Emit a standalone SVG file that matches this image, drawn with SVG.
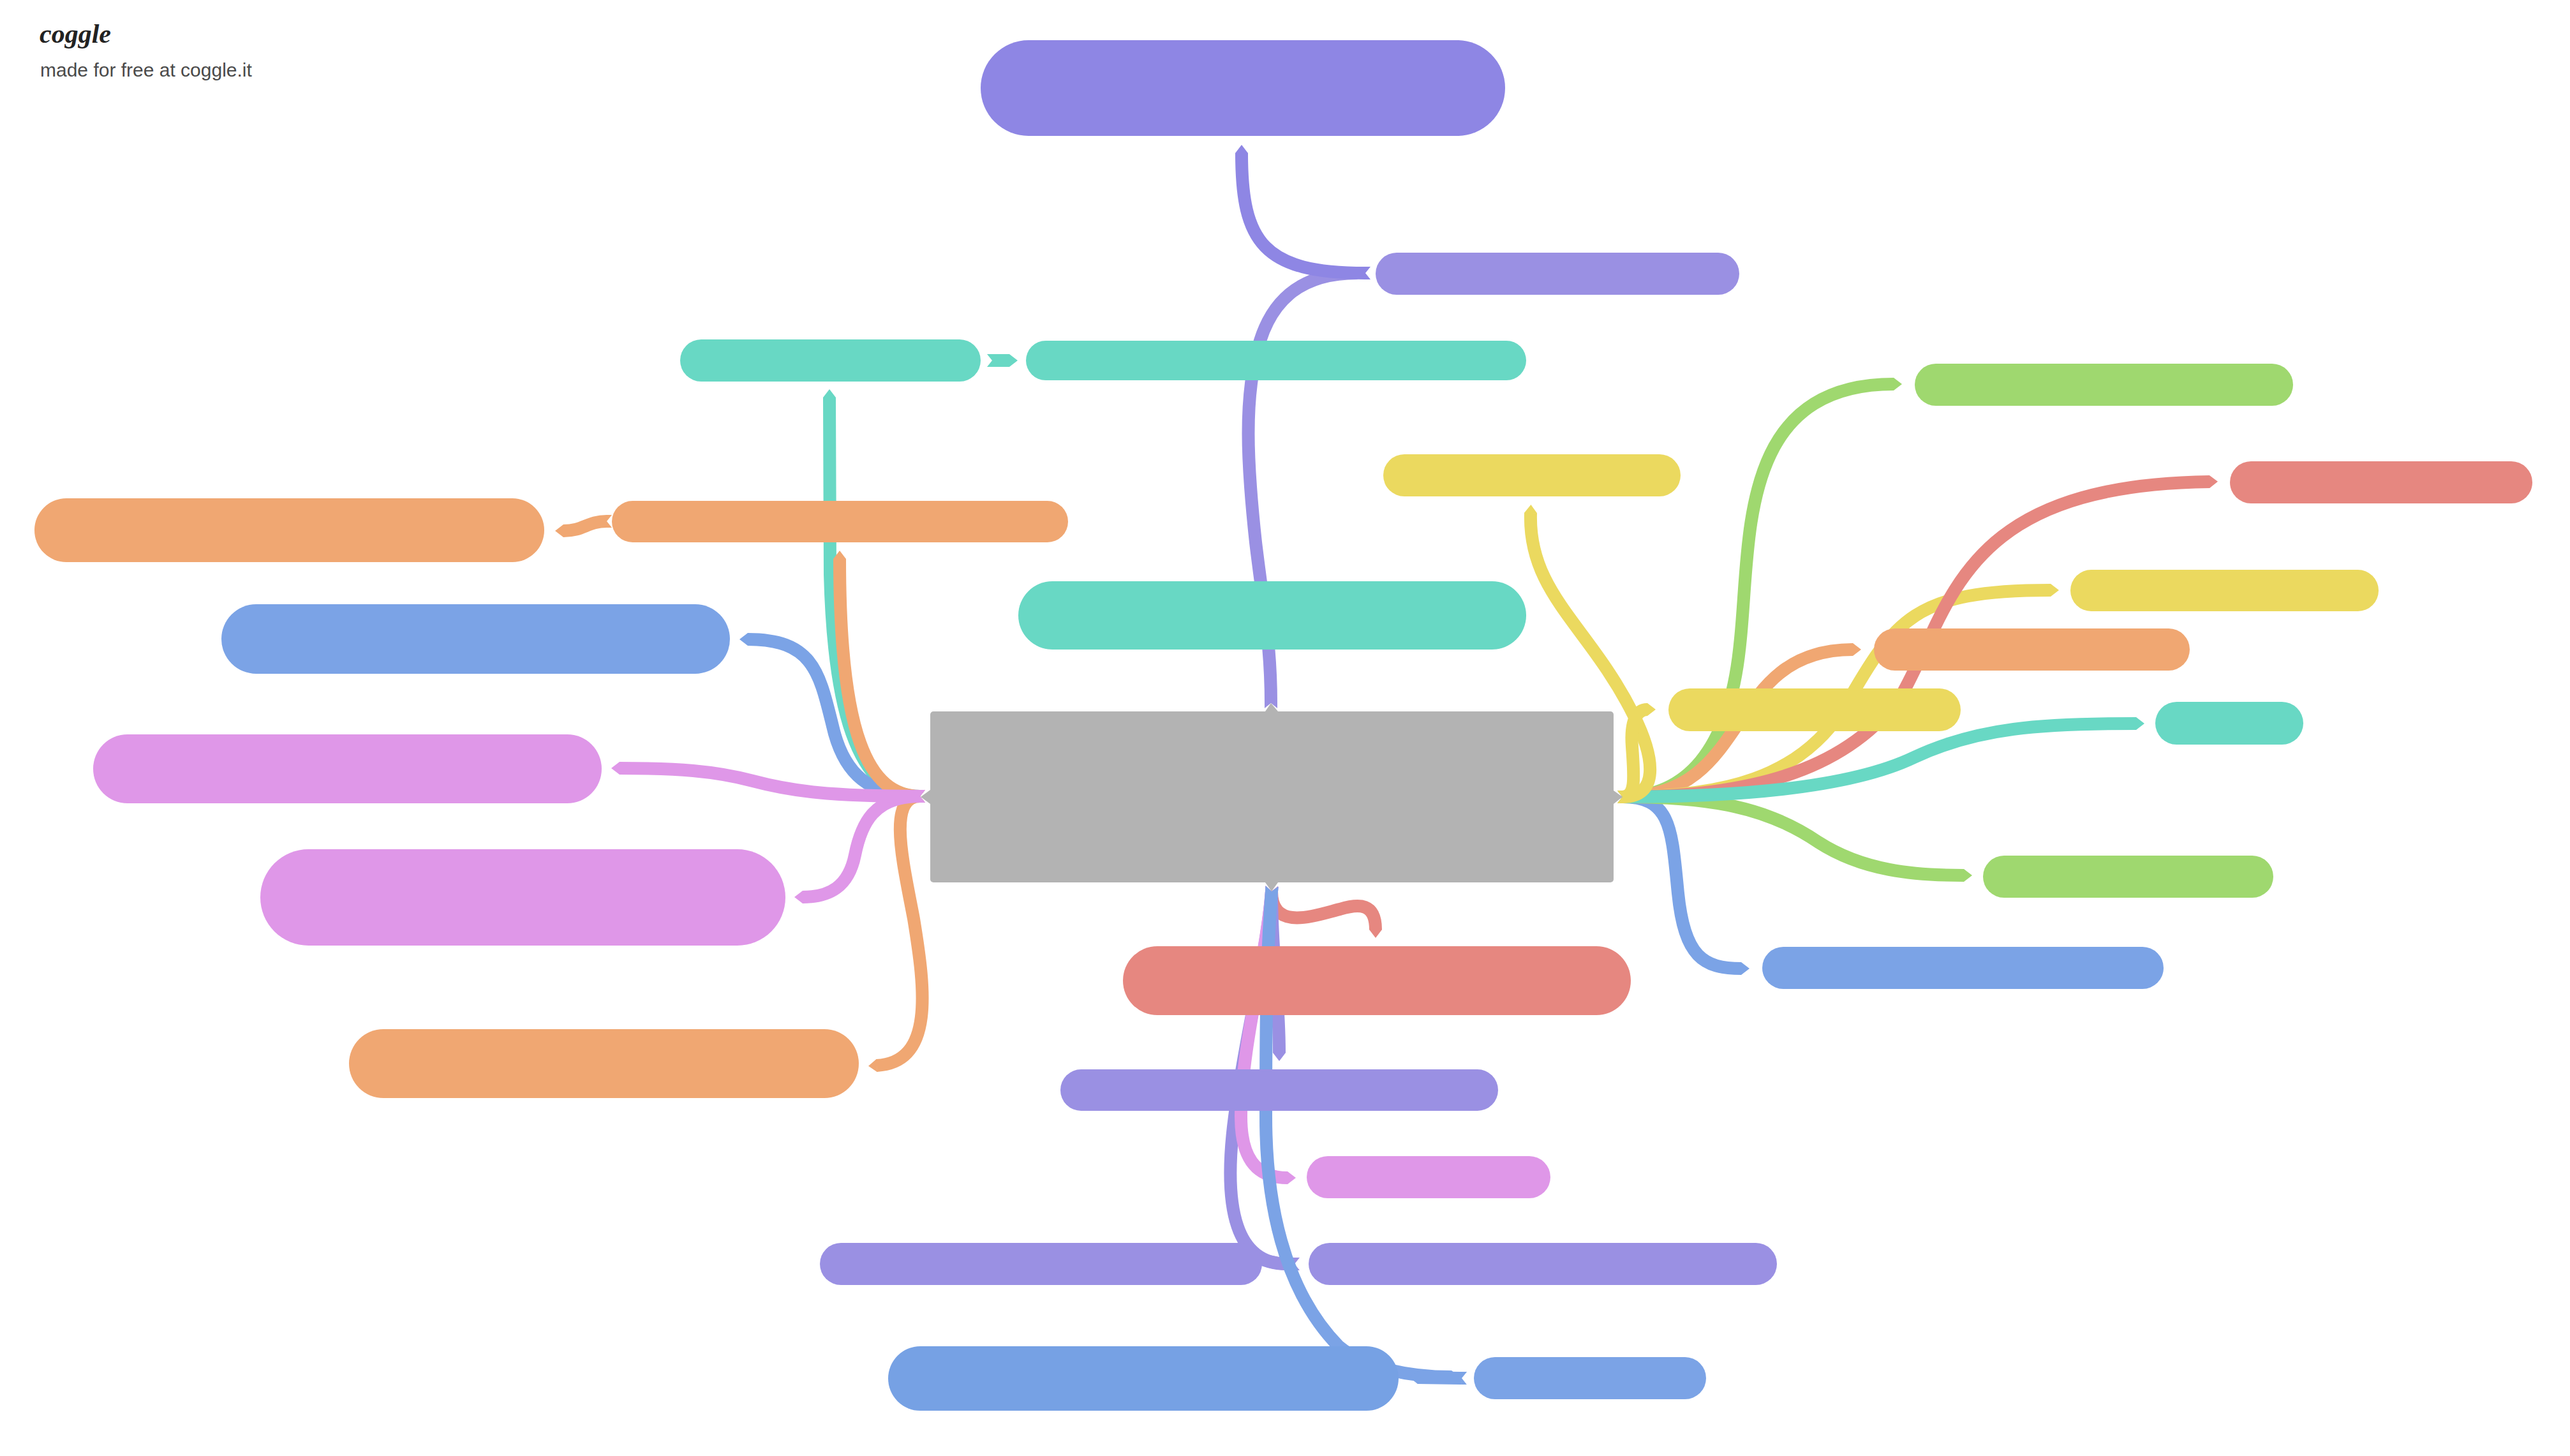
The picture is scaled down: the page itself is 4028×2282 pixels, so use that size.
<svg xmlns="http://www.w3.org/2000/svg" width="4028" height="2282" viewBox="0 0 4028 2282">
<style>
.c{fill:none;stroke-width:20;stroke-linecap:butt}
.pu{stroke:#9a90e3;marker-start:url(#t-pu);marker-end:url(#a-pu)}
.pd{stroke:#8e86e4;marker-start:url(#t-pd);marker-end:url(#a-pd)}
.te{stroke:#68d8c4;marker-start:url(#t-te);marker-end:url(#a-te)}
.or{stroke:#f0a772;marker-start:url(#t-or);marker-end:url(#a-or)}
.bl{stroke:#7ba3e6;marker-start:url(#t-bl);marker-end:url(#a-bl)}
.pi{stroke:#df97e8;marker-start:url(#t-pi);marker-end:url(#a-pi)}
.re{stroke:#e68780;marker-start:url(#t-re);marker-end:url(#a-re)}
.ye{stroke:#ebd95f;marker-start:url(#t-ye);marker-end:url(#a-ye)}
.gr{stroke:#9fd86f;marker-start:url(#t-gr);marker-end:url(#a-gr)}
marker{overflow:visible}
</style>
<defs>
<marker id="t-pu" markerUnits="userSpaceOnUse" orient="auto" markerWidth="30" markerHeight="30"><polygon fill="#9a90e3" points="0.5,-10 -8,-10 0,0 -8,10 0.5,10"/></marker>
<marker id="a-pu" markerUnits="userSpaceOnUse" orient="auto" markerWidth="30" markerHeight="30"><polygon fill="#9a90e3" points="-0.5,-10 0,-10 13,0 0,10 -0.5,10"/></marker>
<marker id="t-pd" markerUnits="userSpaceOnUse" orient="auto" markerWidth="30" markerHeight="30"><polygon fill="#8e86e4" points="0.5,-10 -8,-10 0,0 -8,10 0.5,10"/></marker>
<marker id="a-pd" markerUnits="userSpaceOnUse" orient="auto" markerWidth="30" markerHeight="30"><polygon fill="#8e86e4" points="-0.5,-10 0,-10 13,0 0,10 -0.5,10"/></marker>
<marker id="t-te" markerUnits="userSpaceOnUse" orient="auto" markerWidth="30" markerHeight="30"><polygon fill="#68d8c4" points="0.5,-10 -8,-10 0,0 -8,10 0.5,10"/></marker>
<marker id="a-te" markerUnits="userSpaceOnUse" orient="auto" markerWidth="30" markerHeight="30"><polygon fill="#68d8c4" points="-0.5,-10 0,-10 13,0 0,10 -0.5,10"/></marker>
<marker id="t-or" markerUnits="userSpaceOnUse" orient="auto" markerWidth="30" markerHeight="30"><polygon fill="#f0a772" points="0.5,-10 -8,-10 0,0 -8,10 0.5,10"/></marker>
<marker id="a-or" markerUnits="userSpaceOnUse" orient="auto" markerWidth="30" markerHeight="30"><polygon fill="#f0a772" points="-0.5,-10 0,-10 13,0 0,10 -0.5,10"/></marker>
<marker id="t-bl" markerUnits="userSpaceOnUse" orient="auto" markerWidth="30" markerHeight="30"><polygon fill="#7ba3e6" points="0.5,-10 -8,-10 0,0 -8,10 0.5,10"/></marker>
<marker id="a-bl" markerUnits="userSpaceOnUse" orient="auto" markerWidth="30" markerHeight="30"><polygon fill="#7ba3e6" points="-0.5,-10 0,-10 13,0 0,10 -0.5,10"/></marker>
<marker id="t-pi" markerUnits="userSpaceOnUse" orient="auto" markerWidth="30" markerHeight="30"><polygon fill="#df97e8" points="0.5,-10 -8,-10 0,0 -8,10 0.5,10"/></marker>
<marker id="a-pi" markerUnits="userSpaceOnUse" orient="auto" markerWidth="30" markerHeight="30"><polygon fill="#df97e8" points="-0.5,-10 0,-10 13,0 0,10 -0.5,10"/></marker>
<marker id="t-re" markerUnits="userSpaceOnUse" orient="auto" markerWidth="30" markerHeight="30"><polygon fill="#e68780" points="0.5,-10 -8,-10 0,0 -8,10 0.5,10"/></marker>
<marker id="a-re" markerUnits="userSpaceOnUse" orient="auto" markerWidth="30" markerHeight="30"><polygon fill="#e68780" points="-0.5,-10 0,-10 13,0 0,10 -0.5,10"/></marker>
<marker id="t-ye" markerUnits="userSpaceOnUse" orient="auto" markerWidth="30" markerHeight="30"><polygon fill="#ebd95f" points="0.5,-10 -8,-10 0,0 -8,10 0.5,10"/></marker>
<marker id="a-ye" markerUnits="userSpaceOnUse" orient="auto" markerWidth="30" markerHeight="30"><polygon fill="#ebd95f" points="-0.5,-10 0,-10 13,0 0,10 -0.5,10"/></marker>
<marker id="t-gr" markerUnits="userSpaceOnUse" orient="auto" markerWidth="30" markerHeight="30"><polygon fill="#9fd86f" points="0.5,-10 -8,-10 0,0 -8,10 0.5,10"/></marker>
<marker id="a-gr" markerUnits="userSpaceOnUse" orient="auto" markerWidth="30" markerHeight="30"><polygon fill="#9fd86f" points="-0.5,-10 0,-10 13,0 0,10 -0.5,10"/></marker>
</defs>
<rect width="4028" height="2282" fill="#ffffff"/>
<g id="connectors">
<path class="c pu" d="M1992,1102 C1992,1010 1980,950 1968,850 C1955,730 1948,620 1975,534 C1992,480 2030,428 2127,428"/>
<path class="c pd" d="M2140,428 C1980,428 1946,380 1946,240"/>
<path class="c te" d="M1555,565 L1582,565"/>
<path class="c te" d="M1442,1248 C1340,1248 1306,1100 1301,900 C1300,800 1300,700 1300,623"/>
<path class="c bl" d="M1442,1248 C1360,1248 1325,1210 1308,1150 C1285,1060 1280,1002 1172,1002"/>
<path class="c or" d="M1442,1248 C1360,1248 1316,1150 1316,876"/>
<path class="c or" d="M1442,1248 C1390,1248 1415,1350 1432,1440 C1450,1550 1465,1665 1374,1670"/>
<path class="c or" d="M951,817 C920,817 915,832 883,832"/>
<path class="c pi" d="M1442,1248 C1370,1248 1350,1290 1340,1340 C1330,1390 1300,1406 1258,1406"/>
<path class="c pi" d="M1442,1248 C1300,1248 1240,1240 1180,1224 C1120,1208 1060,1204 971,1204"/>
<path class="c bl" d="M2543,1249 C2620,1249 2620,1300 2630,1400 C2640,1500 2670,1518 2729,1518"/>
<path class="c gr" d="M2543,1249 C2680,1249 2770,1265 2850,1320 C2920,1365 3000,1372 3078,1372"/>
<path class="c gr" d="M2543,1249 C2640,1249 2710,1180 2727,1010 C2745,850 2720,602 2968,602"/>
<path class="c or" d="M2543,1249 C2750,1249 2700,1018 2904,1018"/>
<path class="c ye" d="M2543,1249 C2700,1249 2820,1220 2890,1110 C2970,970 3000,925 3214,925"/>
<path class="c re" d="M2543,1249 C2760,1249 2900,1200 2980,1090 C3060,950 3070,760 3463,755"/>
<path class="c te" d="M2543,1249 C2720,1249 2900,1235 3000,1187 C3100,1140 3200,1134 3348,1134"/>
<path class="c ye" d="M2543,1249 C2600,1249 2595,1190 2560,1120 C2490,980 2395,930 2399,804"/>
<path class="c ye" d="M2543,1249 C2565,1249 2561,1215 2558,1170 C2555,1130 2565,1112 2582,1112"/>
<path class="c re" d="M1993,1397 C1993,1460 2060,1435 2100,1425 C2130,1416 2156,1415 2156,1457"/>
<path class="c pu" d="M1993,1397 C1993,1500 2005,1560 2005,1650"/>
<path class="c pu" d="M1993,1397 C1985,1500 1952,1620 1935,1750 C1915,1900 1940,1981 2016,1981"/>
<path class="c pu" d="M2029,1981 C2010,1981 1995,1980 1975,1973"/>
<path class="c pi" d="M1993,1397 C1985,1500 1945,1640 1945,1750 C1945,1810 1965,1846 2018,1846"/>
<path class="c bl" d="M1993,1397 C1985,1500 1984,1600 1984,1750 C1984,1880 2010,2020 2098,2110 C2140,2145 2210,2158 2275,2158"/>
<path class="c bl" d="M2291,2160 L2222,2159"/>
</g>
<g id="node-top"><rect x="1537" y="63" width="822" height="150" rx="75" fill="#8e86e4"/></g>
<g id="node-purple-2"><rect x="2156" y="396" width="570" height="66" rx="33" fill="#9a90e3"/></g>
<g id="node-teal-1"><rect x="1066" y="532" width="471" height="66" rx="33" fill="#68d8c4"/></g>
<g id="node-teal-2"><rect x="1608" y="534" width="784" height="62" rx="31" fill="#68d8c4"/></g>
<g id="node-yellow-1"><rect x="2168" y="712" width="466" height="66" rx="33" fill="#ebd95f"/></g>
<g id="node-orange-1"><rect x="54" y="781" width="799" height="100" rx="50" fill="#f0a772"/></g>
<g id="node-orange-2"><rect x="959" y="785" width="715" height="65" rx="32.5" fill="#f0a772"/></g>
<g id="node-teal-3"><rect x="1596" y="911" width="796" height="107" rx="53.5" fill="#68d8c4"/></g>
<g id="node-blue-1"><rect x="347" y="947" width="797" height="109" rx="54.5" fill="#7ba3e6"/></g>
<g id="node-pink-1"><rect x="146" y="1151" width="797" height="108" rx="54" fill="#df97e8"/></g>
<g id="node-pink-2"><rect x="408" y="1331" width="823" height="151" rx="75.5" fill="#df97e8"/></g>
<g id="node-orange-3"><rect x="547" y="1613" width="799" height="108" rx="54" fill="#f0a772"/></g>
<g id="node-center">
<rect x="1458" y="1115" width="1071" height="268" rx="5" fill="#b3b3b3"/>
<polygon fill="#b3b3b3" points="1458,1238 1443,1249 1458,1260"/>
<polygon fill="#b3b3b3" points="1983,1115 1992,1102 2003,1115"/>
<polygon fill="#b3b3b3" points="2529,1239 2543,1249 2529,1260"/>
<polygon fill="#b3b3b3" points="1983,1383 1993,1397 2003,1383"/>
</g>
<g id="node-green-1"><rect x="3001" y="570" width="593" height="66" rx="33" fill="#9fd86f"/></g>
<g id="node-red-1"><rect x="3495" y="723" width="474" height="66" rx="33" fill="#e68780"/></g>
<g id="node-yellow-2"><rect x="3245" y="893" width="483" height="65" rx="32.5" fill="#ebd95f"/></g>
<g id="node-orange-4"><rect x="2937" y="985" width="495" height="66" rx="33" fill="#f0a772"/></g>
<g id="node-yellow-3"><rect x="2615" y="1079" width="458" height="67" rx="33.5" fill="#ebd95f"/></g>
<g id="node-teal-4"><rect x="3378" y="1100" width="232" height="67" rx="33.5" fill="#68d8c4"/></g>
<g id="node-green-2"><rect x="3108" y="1341" width="455" height="66" rx="33" fill="#9fd86f"/></g>
<g id="node-blue-2"><rect x="2762" y="1484" width="629" height="66" rx="33" fill="#7ba3e6"/></g>
<g id="node-red-2"><rect x="1760" y="1483" width="796" height="108" rx="54" fill="#e68780"/></g>
<g id="node-purple-3"><rect x="1662" y="1676" width="686" height="65" rx="32.5" fill="#9a90e3"/></g>
<g id="node-pink-3"><rect x="2048" y="1812" width="382" height="66" rx="33" fill="#df97e8"/></g>
<g id="node-purple-4"><rect x="1285" y="1948" width="693" height="66" rx="33" fill="#9a90e3"/></g>
<g id="node-purple-5"><rect x="2051" y="1948" width="734" height="66" rx="33" fill="#9a90e3"/></g>
<g id="node-blue-3"><rect x="1392" y="2110" width="800" height="101" rx="50.5" fill="#76a1e4"/></g>
<g id="node-blue-4"><rect x="2310" y="2127" width="364" height="66" rx="33" fill="#7ba3e6"/></g>
<text x="62" y="67" font-family="'Liberation Serif',serif" font-style="italic" font-weight="700" font-size="42" fill="#222222">coggle</text>
<text x="63" y="120" font-family="'Liberation Sans',Arial,sans-serif" font-size="30" fill="#4a4a4a">made for free at coggle.it</text>
</svg>
